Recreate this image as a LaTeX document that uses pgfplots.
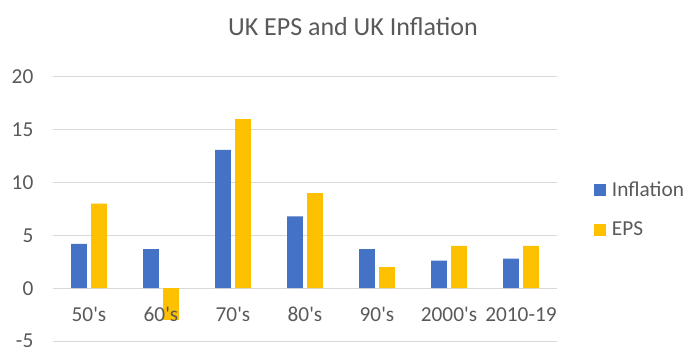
\documentclass[border=0pt]{standalone}
\usepackage{fontspec}
\setmainfont{Carlito}
\usepackage{pgfplots}
\pgfplotsset{compat=1.18}
\definecolor{infl}{HTML}{4472C4}
\definecolor{eps}{HTML}{FFC000}
\definecolor{txt}{HTML}{595959}
\definecolor{grd}{HTML}{D9D9D9}
\newcommand{\tlfont}{\fontsize{21.3bp}{25bp}\selectfont}
\begin{document}
\begin{tikzpicture}
\begin{axis}[
  at={(53bp,23bp)}, anchor=south west,
  scale only axis, width=504bp, height=264bp,
  ymin=-5, ymax=20, ytick={-5,0,5,10,15,20},
  xmin=-0.5, xmax=6.5,
  xtick={0,1,2,3,4,5,6},
  xticklabels={},
  ybar=4.3bp, bar width=15.7bp,
  axis line style={draw=none},
  major tick length=0pt,
  ymajorgrids, grid style={grd, line width=1bp},
  /pgf/number format/assume math mode=true,
  tick label style={font=\tlfont, text=txt},
  yticklabel style={anchor=east, inner sep=0pt, xshift=-19.5bp},
  title={UK EPS and UK Inflation},
  title style={at={(0.595,1.136)}, anchor=base, font=\fontsize{26bp}{30bp}\selectfont, text=txt},
  legend style={draw=none, fill=none, at={(1.073,0.608)}, anchor=north west,
    font=\tlfont, text=txt,
    row sep=22bp, inner sep=0pt,
    nodes={inner sep=1bp, anchor=west},
    /tikz/every odd column/.append style={column sep=5bp}},
  legend cell align=left,
  legend image code/.code={\fill[#1] (0bp,-6bp) rectangle (12bp,6bp);},
  clip=false,
]
\addplot[fill=infl, draw=none] coordinates {(0,4.2) (1,3.7) (2,13.1) (3,6.8) (4,3.7) (5,2.6) (6,2.8)};
\addplot[fill=eps, draw=none] coordinates {(0,8) (1,-3) (2,16) (3,9) (4,2) (5,4) (6,4)};
\legend{Inflation,EPS}
\begin{scope}[every node/.style={anchor=base, font=\tlfont, text=txt, yshift=-33.4bp}]
\node at (axis cs:0,0) {50\textquotesingle s};
\node at (axis cs:1,0) {60\textquotesingle s};
\node at (axis cs:2,0) {70\textquotesingle s};
\node at (axis cs:3,0) {80\textquotesingle s};
\node at (axis cs:4,0) {90\textquotesingle s};
\node at (axis cs:5,0) {2000\textquotesingle s};
\node at (axis cs:6,0) {2010-19};
\end{scope}
\end{axis}
\path (0,0) rectangle (700bp,364bp);
\end{tikzpicture}
\end{document}
